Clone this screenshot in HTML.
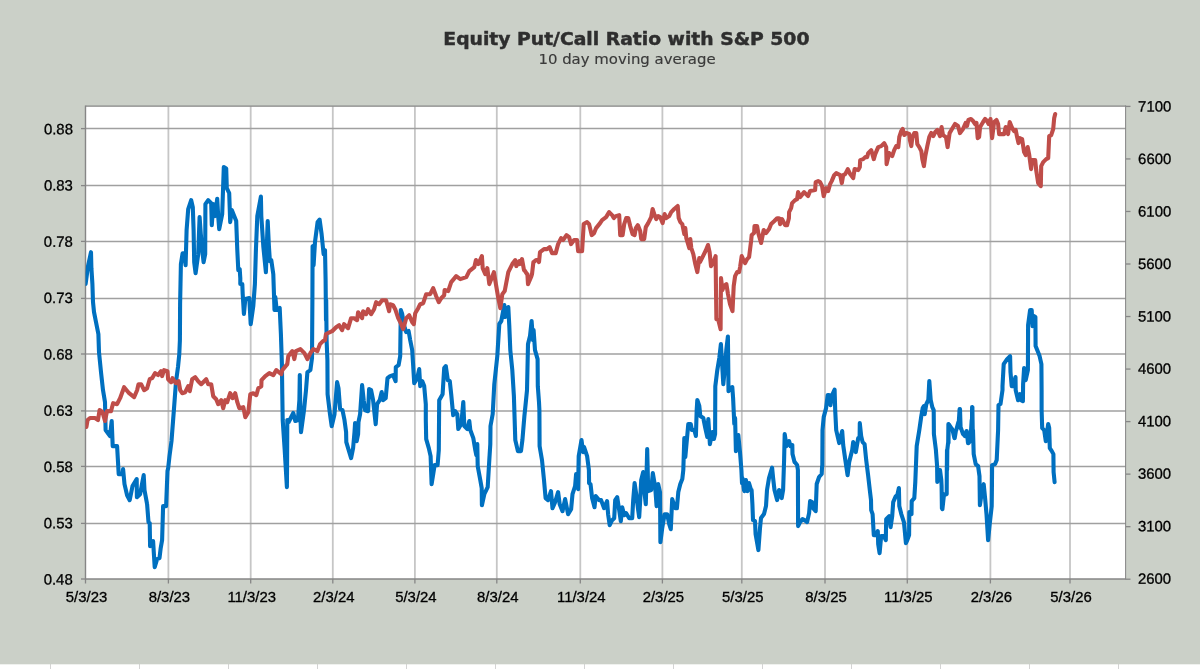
<!DOCTYPE html>
<html><head><meta charset="utf-8"><title>Equity Put/Call Ratio with S&amp;P 500</title>
<style>
html,body{margin:0;padding:0;background:#fff;}
body{width:1200px;height:669px;overflow:hidden;position:relative;}
svg{display:block;position:absolute;left:0;top:0;}
.ax{font-family:"Liberation Sans",Arial,sans-serif;font-size:14.9px;fill:#000;stroke:#000;stroke-width:0.3px;}
.t1{font-family:"DejaVu Sans",Verdana,sans-serif;font-weight:bold;font-size:17.2px;fill:#2e2e2e;stroke:#2e2e2e;stroke-width:0.45px;}
.t2{font-family:"DejaVu Sans",Verdana,sans-serif;font-size:13.8px;fill:#3a3a3a;stroke:#3a3a3a;stroke-width:0.15px;}
</style></head><body>
<svg width="1200" height="669" viewBox="0 0 1200 669">
<rect x="0" y="0" width="1200" height="669" fill="#ffffff"/>
<filter id="soft" filterUnits="userSpaceOnUse" x="-20" y="-20" width="1240" height="709"><feGaussianBlur stdDeviation="0.42"/></filter>
<g filter="url(#soft)">
<rect x="-20" y="640" width="1240" height="60" fill="#ffffff"/>

<g stroke="#d4d4d4" stroke-width="1">
<line x1="50.5" y1="664" x2="50.5" y2="680"/>
<line x1="139.5" y1="664" x2="139.5" y2="680"/>
<line x1="228.5" y1="664" x2="228.5" y2="680"/>
<line x1="317.5" y1="664" x2="317.5" y2="680"/>
<line x1="406.5" y1="664" x2="406.5" y2="680"/>
<line x1="495.5" y1="664" x2="495.5" y2="680"/>
<line x1="584.5" y1="664" x2="584.5" y2="680"/>
<line x1="673.5" y1="664" x2="673.5" y2="680"/>
<line x1="762.5" y1="664" x2="762.5" y2="680"/>
<line x1="851.5" y1="664" x2="851.5" y2="680"/>
<line x1="940.5" y1="664" x2="940.5" y2="680"/>
<line x1="1029.5" y1="664" x2="1029.5" y2="680"/>
<line x1="1118.5" y1="664" x2="1118.5" y2="680"/>
<line x1="1207.5" y1="664" x2="1207.5" y2="680"/>
</g>
<rect x="-20" y="-20" width="1240" height="684.3" fill="#cbd0c8"/>
<rect x="85.5" y="106.2" width="1040.5" height="472.8" fill="#ffffff"/>
<g stroke="#c6c6c6" stroke-width="1.8">
<line x1="168.4" y1="106.2" x2="168.4" y2="579.0"/>
<line x1="250.7" y1="106.2" x2="250.7" y2="579.0"/>
<line x1="332.8" y1="106.2" x2="332.8" y2="579.0"/>
<line x1="414.9" y1="106.2" x2="414.9" y2="579.0"/>
<line x1="496.8" y1="106.2" x2="496.8" y2="579.0"/>
<line x1="580.3" y1="106.2" x2="580.3" y2="579.0"/>
<line x1="662.4" y1="106.2" x2="662.4" y2="579.0"/>
<line x1="741.8" y1="106.2" x2="741.8" y2="579.0"/>
<line x1="825" y1="106.2" x2="825" y2="579.0"/>
<line x1="907.3" y1="106.2" x2="907.3" y2="579.0"/>
<line x1="990.4" y1="106.2" x2="990.4" y2="579.0"/>
<line x1="1070.0" y1="106.2" x2="1070.0" y2="579.0"/>
</g>
<g stroke="#a0a0a0" stroke-width="1.5">
<line x1="85.5" y1="128.60" x2="1126.0" y2="128.60"/>
<line x1="85.5" y1="185.60" x2="1126.0" y2="185.60"/>
<line x1="85.5" y1="241.40" x2="1126.0" y2="241.40"/>
<line x1="85.5" y1="298.40" x2="1126.0" y2="298.40"/>
<line x1="85.5" y1="354.00" x2="1126.0" y2="354.00"/>
<line x1="85.5" y1="410.90" x2="1126.0" y2="410.90"/>
<line x1="85.5" y1="466.40" x2="1126.0" y2="466.40"/>
<line x1="85.5" y1="523.40" x2="1126.0" y2="523.40"/>
</g>
<g stroke="#868686" stroke-width="1.3" fill="none">
<line x1="85.5" y1="105.60000000000001" x2="85.5" y2="579.6" stroke-width="1.4"/>
<line x1="85.5" y1="106.2" x2="1126.0" y2="106.2" stroke-width="1.25"/>
<line x1="1125.6" y1="105.60000000000001" x2="1125.6" y2="579.6" stroke-width="1.05"/>
<line x1="85.5" y1="579.0" x2="1126.0" y2="579.0" stroke-width="1.3"/>
<line x1="81.0" y1="128.60" x2="85.5" y2="128.60"/>
<line x1="81.0" y1="185.60" x2="85.5" y2="185.60"/>
<line x1="81.0" y1="241.40" x2="85.5" y2="241.40"/>
<line x1="81.0" y1="298.40" x2="85.5" y2="298.40"/>
<line x1="81.0" y1="354.00" x2="85.5" y2="354.00"/>
<line x1="81.0" y1="410.90" x2="85.5" y2="410.90"/>
<line x1="81.0" y1="466.40" x2="85.5" y2="466.40"/>
<line x1="81.0" y1="523.40" x2="85.5" y2="523.40"/>
<line x1="81.0" y1="579.00" x2="85.5" y2="579.00"/>
<line x1="1126.0" y1="106.40" x2="1130.5" y2="106.40"/>
<line x1="1126.0" y1="158.93" x2="1130.5" y2="158.93"/>
<line x1="1126.0" y1="211.47" x2="1130.5" y2="211.47"/>
<line x1="1126.0" y1="264.00" x2="1130.5" y2="264.00"/>
<line x1="1126.0" y1="316.53" x2="1130.5" y2="316.53"/>
<line x1="1126.0" y1="369.07" x2="1130.5" y2="369.07"/>
<line x1="1126.0" y1="421.60" x2="1130.5" y2="421.60"/>
<line x1="1126.0" y1="474.13" x2="1130.5" y2="474.13"/>
<line x1="1126.0" y1="526.67" x2="1130.5" y2="526.67"/>
<line x1="1126.0" y1="579.20" x2="1130.5" y2="579.20"/>
<line x1="85.5" y1="579.0" x2="85.5" y2="583.5"/>
<line x1="168.4" y1="579.0" x2="168.4" y2="583.5"/>
<line x1="250.7" y1="579.0" x2="250.7" y2="583.5"/>
<line x1="332.8" y1="579.0" x2="332.8" y2="583.5"/>
<line x1="414.9" y1="579.0" x2="414.9" y2="583.5"/>
<line x1="496.8" y1="579.0" x2="496.8" y2="583.5"/>
<line x1="580.3" y1="579.0" x2="580.3" y2="583.5"/>
<line x1="662.4" y1="579.0" x2="662.4" y2="583.5"/>
<line x1="741.8" y1="579.0" x2="741.8" y2="583.5"/>
<line x1="825" y1="579.0" x2="825" y2="583.5"/>
<line x1="907.3" y1="579.0" x2="907.3" y2="583.5"/>
<line x1="990.4" y1="579.0" x2="990.4" y2="583.5"/>
<line x1="1070.0" y1="579.0" x2="1070.0" y2="583.5"/>
</g>
<clipPath id="c"><rect x="85.5" y="106.2" width="1040.5" height="472.8"/></clipPath>
<g clip-path="url(#c)" fill="none" stroke-linejoin="round" stroke-linecap="round">
<path d="M85.6,284.0 L88.0,266.2 L91.0,252.2 L91.4,268.2 L92.4,284.0 L92.6,290.0 L93.0,302.0 L94.0,312.0 L96.0,322.1 L98.4,334.1 L99.0,352.1 L101.0,372.1 L103.0,390.2 L105.0,402.2 L105.6,430.0 L110.0,436.1 L111.7,421.0 L112.7,446.1 L117.1,446.1 L118.7,474.1 L122.5,474.1 L123.1,469.1 L124.5,484.1 L127.1,495.2 L129.7,500.2 L132.5,486.1 L136.7,479.1 L136.9,497.2 L140.1,494.2 L143.7,475.1 L144.5,490.1 L147.1,504.2 L147.1,504.1 L148.5,522.1 L149.7,523.1 L150.1,546.1 L153.1,541.1 L154.7,567.2 L157.1,559.1 L159.5,558.1 L160.7,548.1 L162.1,540.1 L163.1,506.1 L166.1,506.1 L167.5,471.0 L168.2,468.0 L169.5,456.0 L171.5,441.0 L174.0,408.5 L176.0,381.6 L178.0,367.0 L179.3,354.0 L179.9,340.0 L180.1,304.0 L180.5,284.0 L180.9,264.0 L182.6,253.2 L184.2,253.2 L185.6,265.2 L186.6,230.1 L188.2,209.1 L191.2,200.1 L192.8,207.1 L193.6,230.1 L194.2,262.2 L195.6,273.2 L198.2,254.2 L199.6,217.1 L200.8,234.1 L202.2,250.2 L203.6,262.2 L205.2,254.2 L205.4,204.1 L208.2,200.1 L211.2,203.1 L211.8,225.1 L213.2,204.1 L215.2,216.1 L217.2,198.7 L218.2,216.1 L219.2,229.1 L222.2,214.1 L223.8,167.0 L226.2,168.4 L226.8,188.1 L229.2,193.1 L230.2,222.1 L231.8,210.1 L234.2,216.1 L236.2,221.1 L237.3,250.2 L238.3,270.2 L239.7,269.2 L240.3,278.2 L240.3,284.0 L242.3,284.0 L242.7,294.0 L243.9,314.0 L245.3,299.0 L249.3,298.0 L250.7,324.1 L253.3,306.0 L254.9,284.0 L255.9,250.2 L257.3,216.1 L260.9,196.5 L261.3,216.1 L263.3,246.2 L265.9,272.2 L267.7,221.1 L268.9,246.2 L269.9,261.2 L271.3,260.2 L273.3,274.2 L274.5,310.0 L275.3,297.0 L276.7,310.0 L279.7,308.0 L280.9,334.1 L281.9,364.1 L282.3,394.2 L282.7,420.0 L284.7,450.1 L286.9,487.1 L287.1,460.1 L287.3,420.0 L288.7,422.0 L293.3,413.0 L295.3,421.0 L297.9,420.0 L299.4,400.0 L299.8,375.0 L300.4,416.0 L301.0,432.1 L304.0,410.2 L306.0,390.1 L307.4,372.1 L310.4,370.1 L312.0,358.1 L312.4,300.0 L312.6,246.2 L313.0,246.1 L313.6,265.1 L315.0,242.1 L317.6,222.0 L319.6,219.6 L321.6,234.1 L323.6,254.1 L325.0,250.1 L325.6,280.1 L326.0,320.2 L326.2,300.0 L326.6,340.1 L327.4,360.1 L327.6,394.2 L330.0,414.2 L331.7,426.2 L334.5,414.2 L337.1,382.1 L338.5,388.1 L340.1,409.2 L342.5,410.2 L344.5,420.2 L346.1,432.1 L346.3,442.1 L348.1,448.1 L351.1,458.1 L353.1,448.1 L354.5,432.1 L355.1,423.0 L356.7,441.1 L358.1,434.1 L358.5,422.0 L360.1,414.2 L362.1,385.1 L363.7,400.2 L365.1,410.2 L368.1,411.2 L369.1,389.1 L371.1,390.1 L373.1,400.2 L375.7,424.2 L377.1,404.2 L379.7,400.2 L381.7,392.1 L383.1,400.2 L385.7,398.2 L387.5,378.1 L390.1,376.1 L393.1,375.1 L395.6,381.1 L395.8,367.1 L398.6,365.1 L400.2,356.1 L400.8,310.0 L402.2,314.0 L404.2,326.0 L406.2,332.1 L408.6,331.0 L410.2,340.1 L412.2,350.1 L413.2,366.1 L414.2,383.1 L417.2,378.1 L419.2,369.1 L420.2,386.1 L422.2,381.1 L424.2,386.1 L425.8,404.2 L425.8,420.0 L426.2,439.1 L428.8,448.1 L430.6,456.1 L431.6,484.1 L433.2,474.1 L434.6,465.1 L437.6,465.1 L438.8,450.1 L439.2,400.2 L442.6,394.2 L444.2,368.1 L445.8,366.1 L447.8,380.1 L449.8,381.1 L451.2,394.2 L453.2,415.2 L455.2,411.2 L457.3,414.2 L458.3,429.0 L461.3,424.0 L463.3,402.0 L464.3,426.0 L467.3,429.0 L469.3,421.0 L470.3,430.0 L473.3,438.1 L475.3,450.1 L476.3,455.1 L477.3,444.1 L477.7,466.1 L480.3,480.1 L481.7,488.1 L481.9,505.2 L484.3,494.2 L487.7,487.1 L489.3,460.1 L490.3,444.1 L490.5,426.0 L492.7,414.0 L494.3,384.1 L497.3,356.1 L499.3,324.0 L501.3,321.0 L504.3,305.0 L505.3,317.0 L508.3,307.0 L509.3,326.0 L510.3,350.1 L512.3,370.1 L513.9,396.2 L515.3,440.1 L517.9,451.1 L521.0,451.1 L522.4,440.1 L524.4,416.0 L525.0,410.2 L527.0,390.2 L528.0,344.1 L530.0,336.1 L531.6,321.0 L533.0,340.1 L533.6,330.1 L535.0,350.1 L537.6,359.1 L537.8,386.2 L539.0,402.2 L539.4,410.0 L539.6,446.1 L542.0,460.1 L544.0,480.1 L545.6,498.1 L548.0,500.1 L551.0,491.1 L552.5,508.2 L555.1,502.1 L558.1,492.1 L559.7,504.2 L562.5,511.2 L565.1,499.1 L568.1,514.2 L571.1,509.2 L572.5,494.1 L575.1,486.1 L576.1,474.1 L578.1,489.1 L578.7,456.1 L581.5,440.0 L583.1,452.1 L584.1,447.1 L587.1,456.1 L588.9,470.1 L589.1,483.1 L590.5,484.1 L592.1,498.1 L594.5,507.2 L595.7,496.1 L599.1,500.1 L601.1,500.1 L604.1,508.2 L607.1,501.1 L608.1,514.2 L609.7,525.2 L612.1,520.2 L614.2,518.2 L615.2,500.1 L617.2,497.1 L619.2,510.2 L620.8,521.2 L622.2,507.2 L624.2,515.2 L626.2,513.2 L629.2,518.2 L632.2,518.2 L633.2,500.1 L634.6,483.1 L636.2,494.1 L638.2,510.2 L639.2,517.2 L640.2,500.1 L641.2,480.1 L643.2,472.1 L644.2,490.1 L645.8,504.2 L647.2,449.1 L648.2,491.1 L651.2,490.1 L652.8,473.1 L655.2,487.1 L656.6,506.2 L658.2,484.1 L660.0,492.1 L660.2,516.2 L660.4,542.2 L662.2,528.2 L664.6,514.2 L667.2,514.2 L669.2,524.2 L670.8,529.2 L672.2,499.1 L675.2,508.2 L676.9,508.2 L678.3,492.1 L680.3,484.1 L682.3,479.1 L683.3,470.1 L684.3,438.0 L685.3,457.1 L688.3,424.0 L690.7,424.0 L691.9,430.0 L694.3,430.0 L695.9,436.0 L696.7,410.0 L697.3,400.0 L699.3,406.0 L700.3,416.0 L703.3,418.0 L705.3,428.0 L707.3,437.0 L708.3,419.0 L709.9,444.1 L712.3,432.0 L713.9,439.0 L715.1,434.0 L715.3,386.2 L717.3,370.1 L719.3,358.1 L720.9,344.1 L721.9,360.1 L723.3,384.2 L724.7,370.1 L726.3,350.1 L727.9,336.5 L728.3,370.1 L728.5,391.2 L730.3,388.2 L732.3,387.2 L733.1,398.2 L734.3,424.0 L735.1,418.0 L735.9,451.1 L738.3,435.0 L740.0,452.1 L741.4,470.1 L742.0,483.1 L742.4,478.0 L744.0,490.0 L744.4,491.1 L745.6,480.0 L746.0,480.1 L747.0,491.0 L747.4,491.1 L749.0,483.1 L749.0,483.0 L751.4,491.1 L751.6,490.0 L752.4,504.2 L753.0,520.1 L753.4,520.2 L755.0,521.1 L755.6,534.1 L758.4,550.1 L760.0,528.1 L761.0,518.1 L764.0,514.1 L766.0,506.1 L767.0,490.0 L769.0,478.0 L772.1,467.6 L773.1,478.0 L774.5,490.0 L777.1,500.1 L779.1,490.0 L781.7,498.1 L783.1,490.0 L784.1,460.0 L784.7,434.0 L786.5,446.1 L789.1,441.1 L790.5,446.1 L792.3,445.1 L792.5,454.1 L794.5,462.1 L794.7,462.0 L797.1,465.0 L797.9,470.0 L798.1,526.1 L800.1,522.1 L802.5,519.1 L804.5,520.1 L807.1,522.1 L809.1,513.1 L810.1,501.1 L812.1,502.1 L813.1,508.1 L815.7,511.1 L816.7,484.0 L819.1,477.0 L821.7,474.0 L822.1,466.0 L822.3,466.2 L822.5,430.1 L823.7,417.1 L826.1,408.1 L827.7,395.0 L829.1,395.0 L830.5,405.1 L832.1,395.0 L834.6,389.6 L835.2,410.1 L836.2,430.1 L839.2,443.1 L842.2,431.1 L843.2,445.1 L845.2,459.1 L847.6,475.2 L849.2,462.1 L852.2,450.1 L853.2,442.1 L855.8,452.1 L858.2,438.1 L859.6,438.1 L859.8,423.1 L861.2,436.1 L862.6,442.1 L864.6,444.1 L866.2,460.1 L868.2,476.0 L869.8,490.0 L871.0,500.1 L871.2,510.1 L872.6,514.1 L873.8,535.1 L876.2,535.1 L877.8,531.1 L878.2,544.1 L879.6,553.1 L880.8,540.1 L881.2,536.1 L883.8,536.1 L885.8,540.1 L886.2,519.1 L889.2,516.1 L890.6,527.1 L892.2,516.1 L893.2,502.1 L895.8,496.1 L897.3,495.1 L898.9,488.0 L899.3,506.1 L901.3,514.1 L903.9,522.1 L904.7,530.1 L905.9,543.1 L907.3,540.1 L909.1,535.1 L909.3,512.1 L911.5,514.1 L911.7,501.1 L914.3,498.1 L915.3,482.0 L916.7,446.1 L919.3,430.1 L921.3,416.1 L922.7,408.1 L923.9,406.1 L924.7,414.1 L926.3,404.1 L928.3,400.0 L929.3,381.0 L930.7,400.0 L932.3,407.1 L933.7,410.1 L933.9,434.1 L935.9,450.1 L937.1,466.0 L937.3,482.0 L939.3,470.0 L940.0,470.1 L941.3,480.0 L941.6,486.2 L941.9,508.1 L942.4,509.2 L944.0,494.2 L944.3,495.1 L946.4,494.2 L946.7,494.1 L946.8,470.1 L947.0,450.1 L947.1,470.0 L947.3,450.0 L948.2,442.1 L948.4,424.1 L948.5,443.1 L948.7,424.1 L952.0,429.1 L952.3,429.1 L954.4,438.1 L954.7,438.1 L956.0,430.1 L956.3,430.1 L958.4,422.1 L958.8,422.1 L959.6,409.0 L960.0,409.1 L960.6,428.1 L961.0,428.1 L963.0,434.1 L963.4,434.1 L965.0,436.1 L965.4,436.1 L966.4,431.1 L966.8,431.1 L968.0,443.1 L968.4,443.1 L970.0,441.1 L970.4,441.1 L971.7,420.0 L972.0,420.1 L972.1,407.0 L972.4,407.1 L972.7,430.1 L973.0,430.1 L973.7,454.1 L975.7,464.1 L978.1,466.1 L979.5,476.1 L979.7,490.2 L979.9,505.2 L982.1,490.2 L983.7,484.2 L985.1,498.2 L986.5,514.2 L988.1,540.2 L989.7,524.0 L991.7,506.2 L991.9,490.2 L992.1,465.1 L995.1,464.1 L996.7,460.1 L998.1,430.1 L998.5,405.0 L1000.5,404.0 L1002.5,390.0 L1002.5,386.2 L1003.7,364.1 L1007.1,359.1 L1010.1,356.1 L1010.5,372.1 L1011.7,386.2 L1013.1,386.2 L1015.5,377.1 L1015.7,390.2 L1018.1,400.2 L1020.1,394.2 L1021.1,400.2 L1022.9,401.2 L1023.1,384.2 L1024.1,368.1 L1025.7,380.1 L1027.9,370.1 L1028.1,325.1 L1030.1,310.0 L1031.7,310.0 L1032.5,326.1 L1033.8,316.0 L1035.4,317.0 L1035.6,346.1 L1037.2,350.1 L1039.6,356.1 L1041.4,364.1 L1041.6,390.2 L1041.6,410.0 L1042.2,428.1 L1044.2,430.1 L1045.8,441.1 L1048.2,424.1 L1049.2,428.1 L1049.8,448.1 L1051.8,451.1 L1053.4,454.1 L1053.6,472.1 L1054.6,482.1" stroke="#0070c0" stroke-width="4.1"/>
<path d="M86.4,427.0 L87.6,420.0 L90.0,418.0 L95.0,418.0 L98.0,420.0 L99.6,410.0 L102.4,412.0 L105.0,421.0 L107.0,411.0 L111.0,411.2 L113.1,403.2 L117.1,404.2 L120.1,398.2 L124.1,387.2 L129.1,393.2 L134.1,397.2 L137.1,390.2 L138.5,384.2 L141.1,384.2 L144.1,390.2 L147.1,388.2 L149.7,379.2 L152.1,378.2 L155.1,373.1 L158.1,375.1 L161.1,371.1 L162.1,376.1 L164.1,370.1 L167.5,371.1 L168.1,379.2 L171.1,382.2 L172.5,378.2 L175.8,383.2 L178.6,381.2 L180.2,390.2 L182.2,393.2 L185.2,392.2 L188.2,386.2 L189.8,391.2 L192.2,379.2 L195.2,377.1 L198.2,381.2 L201.2,384.2 L206.2,379.2 L208.2,384.2 L211.2,384.2 L213.2,396.2 L216.2,399.2 L218.2,404.2 L221.2,400.2 L223.2,408.2 L225.2,400.2 L227.2,402.2 L230.2,393.2 L232.6,398.2 L235.2,393.2 L237.3,402.2 L239.3,408.2 L243.3,407.2 L245.3,417.2 L248.3,412.2 L250.3,394.2 L253.3,393.2 L256.3,395.2 L258.3,388.2 L261.3,386.2 L261.5,380.2 L265.3,376.1 L269.3,373.1 L273.3,375.1 L276.3,370.1 L281.3,374.1 L282.3,370.1 L287.3,364.1 L288.3,356.1 L292.3,351.1 L294.3,359.1 L295.9,351.1 L300.4,349.1 L304.4,353.1 L307.4,359.1 L310.4,353.1 L313.4,349.1 L317.4,351.1 L320.0,344.1 L320.0,344.1 L323.0,341.1 L325.0,340.1 L326.0,334.0 L332.1,331.2 L336.1,327.2 L339.1,325.2 L342.1,330.2 L344.1,324.2 L348.1,328.2 L351.1,318.2 L354.1,318.2 L357.1,320.2 L358.1,312.2 L362.1,318.2 L363.1,311.2 L366.1,314.2 L368.1,309.2 L371.1,314.2 L374.1,309.2 L376.1,302.2 L379.1,304.2 L382.1,300.2 L386.1,300.2 L389.1,311.2 L390.1,304.2 L393.1,305.2 L395.2,309.2 L398.2,318.2 L401.2,324.2 L403.2,329.2 L406.2,318.2 L409.2,315.2 L412.2,322.2 L413.8,324.2 L415.2,313.2 L418.2,308.2 L420.2,304.2 L423.2,303.2 L426.2,294.2 L430.2,294.2 L433.2,288.1 L436.2,296.2 L438.8,302.2 L441.2,298.2 L444.2,295.2 L444.6,290.1 L448.2,291.1 L451.2,282.1 L456.2,276.1 L460.3,279.1 L463.3,278.1 L466.3,277.1 L469.3,271.1 L474.3,267.1 L475.9,260.1 L478.3,264.1 L481.9,256.1 L482.7,268.1 L485.3,274.1 L487.3,268.1 L489.3,284.1 L491.3,279.1 L493.9,272.1 L495.9,284.1 L498.3,298.2 L500.3,308.2 L502.3,294.2 L504.7,291.1 L508.3,272.1 L512.3,264.1 L515.3,260.1 L516.3,266.1 L519.4,261.1 L520.0,264.1 L522.0,259.1 L522.0,259.1 L524.0,270.1 L524.4,270.1 L527.0,274.2 L527.4,274.1 L528.0,284.1 L528.0,284.2 L531.4,276.1 L532.0,274.2 L533.4,262.1 L533.6,262.1 L536.0,260.1 L536.4,260.1 L538.4,260.1 L539.0,262.1 L540.0,252.1 L544.0,249.1 L547.0,249.1 L549.6,247.1 L552.1,253.1 L555.7,253.1 L558.1,244.1 L561.1,238.1 L563.1,240.1 L566.5,235.1 L569.1,237.1 L571.1,244.1 L574.1,240.1 L577.1,240.1 L578.1,251.1 L582.1,251.1 L583.7,224.1 L587.1,222.1 L589.1,224.1 L591.7,235.1 L594.1,233.1 L596.1,228.1 L600.1,223.1 L602.1,220.1 L606.1,217.1 L609.1,212.1 L612.1,215.1 L613.8,218.1 L615.8,216.1 L619.2,215.1 L620.2,235.1 L622.6,235.1 L624.2,224.1 L626.2,218.1 L628.2,218.1 L630.2,226.1 L632.6,234.1 L634.6,235.1 L635.8,228.1 L637.8,225.1 L640.2,231.1 L641.2,239.1 L644.2,239.1 L645.8,227.1 L648.2,223.1 L651.2,217.1 L652.6,209.0 L654.6,215.1 L656.2,219.1 L658.2,216.1 L660.2,217.1 L662.6,223.1 L664.6,214.1 L666.2,218.1 L669.2,216.1 L671.2,212.1 L674.2,209.0 L677.7,206.0 L678.7,218.1 L680.3,222.1 L682.3,224.1 L684.3,234.1 L685.3,228.1 L686.3,238.1 L689.3,248.1 L690.3,239.1 L691.3,248.1 L693.3,254.1 L695.3,264.1 L697.3,272.1 L699.3,258.1 L700.0,262.1 L703.0,256.1 L706.0,250.0 L708.0,245.0 L709.6,252.1 L711.0,266.1 L713.0,263.1 L715.6,256.1 L716.0,290.1 L716.4,319.2 L718.4,320.2 L720.6,329.2 L720.8,300.1 L721.0,278.1 L722.4,290.1 L724.0,286.1 L726.4,284.1 L728.0,294.1 L730.0,304.1 L732.5,311.1 L733.7,286.1 L735.1,276.1 L737.1,272.1 L739.1,272.1 L740.1,267.1 L741.7,256.1 L743.1,259.1 L745.1,263.1 L747.1,259.1 L749.1,257.1 L751.1,241.0 L751.7,235.0 L754.1,233.0 L754.5,226.0 L757.1,226.0 L758.5,234.0 L761.1,243.0 L763.7,230.0 L766.1,233.0 L769.1,229.0 L771.1,224.0 L774.1,221.2 L777.1,218.2 L779.1,218.2 L780.1,224.2 L782.1,219.2 L785.1,225.2 L787.1,225.2 L788.9,218.2 L789.1,212.2 L791.1,208.2 L792.1,203.1 L795.1,200.1 L797.1,199.1 L798.1,192.1 L800.1,197.1 L804.1,192.1 L808.1,196.1 L810.1,191.1 L815.1,190.1 L815.7,182.1 L818.1,181.1 L820.1,182.1 L822.1,186.1 L823.7,196.1 L826.1,188.1 L828.1,191.1 L830.1,184.1 L831.7,181.1 L834.2,175.1 L836.2,173.1 L840.2,175.1 L841.8,183.1 L843.2,175.1 L845.2,174.1 L847.8,169.1 L850.2,174.1 L853.2,178.1 L854.6,169.1 L858.2,170.1 L859.8,167.1 L860.2,160.1 L863.2,159.1 L865.2,157.1 L867.2,157.1 L868.2,153.1 L871.2,150.1 L873.8,159.1 L875.2,154.1 L878.2,147.1 L881.2,146.1 L884.2,143.1 L886.2,147.1 L886.6,164.1 L889.2,153.1 L892.2,156.1 L894.2,150.1 L896.2,146.1 L898.3,147.1 L899.3,137.0 L901.3,131.0 L902.7,129.0 L904.3,135.0 L906.3,133.0 L909.3,134.0 L909.9,140.0 L911.3,146.1 L912.3,138.0 L914.3,133.0 L916.3,133.0 L917.3,144.1 L919.3,147.1 L921.3,151.1 L922.3,159.1 L923.9,166.1 L925.3,156.1 L927.3,146.1 L929.3,137.0 L931.3,133.0 L933.3,136.0 L935.3,132.0 L937.3,130.0 L940.0,136.1 L941.6,127.0 L943.0,135.1 L946.0,137.1 L947.6,147.1 L949.6,133.1 L952.0,129.0 L955.0,124.0 L958.0,126.0 L960.0,133.1 L963.0,129.0 L965.6,123.0 L967.0,126.0 L968.4,120.0 L971.0,119.0 L973.1,121.0 L975.1,124.0 L976.5,123.0 L977.7,138.1 L979.1,137.1 L980.1,127.0 L983.1,122.0 L985.1,119.0 L987.1,121.0 L988.5,124.0 L990.5,119.0 L992.1,138.1 L994.1,122.0 L996.5,120.0 L998.1,124.0 L999.1,134.1 L1004.1,134.1 L1005.7,127.0 L1008.1,134.1 L1009.7,122.0 L1012.1,128.0 L1014.1,131.0 L1015.7,130.0 L1017.1,137.1 L1018.5,143.1 L1019.7,138.1 L1022.1,139.1 L1024.1,152.1 L1025.7,155.1 L1027.7,147.1 L1029.1,154.1 L1031.1,169.1 L1032.1,160.1 L1035.2,160.1 L1036.2,170.1 L1038.2,183.1 L1040.8,186.1 L1041.2,166.1 L1043.2,162.1 L1046.2,159.1 L1048.2,158.1 L1049.2,136.1 L1051.2,135.1 L1053.2,129.0 L1054.2,118.0 L1055.2,114.0" stroke="#bf4d4a" stroke-width="4.1"/>
</g>
<g class="ax" text-anchor="middle" transform="rotate(0.02 600 601)">
<text x="86.5" y="601.8">5/3/23</text>
<text x="169.4" y="601.8">8/3/23</text>
<text x="251.7" y="601.8">11/3/23</text>
<text x="333.8" y="601.8">2/3/24</text>
<text x="415.9" y="601.8">5/3/24</text>
<text x="497.8" y="601.8">8/3/24</text>
<text x="581.3" y="601.8">11/3/24</text>
<text x="663.4" y="601.8">2/3/25</text>
<text x="742.8" y="601.8">5/3/25</text>
<text x="826.0" y="601.8">8/3/25</text>
<text x="908.3" y="601.8">11/3/25</text>
<text x="991.4" y="601.8">2/3/26</text>
<text x="1071.0" y="601.8">5/3/26</text>
</g>
<g class="ax" text-anchor="end" transform="rotate(0.03 72 350)">
<text x="72.8" y="134.20">0.88</text>
<text x="72.8" y="190.50">0.83</text>
<text x="72.8" y="246.80">0.78</text>
<text x="72.8" y="303.10">0.73</text>
<text x="72.8" y="359.40">0.68</text>
<text x="72.8" y="415.70">0.63</text>
<text x="72.8" y="472.00">0.58</text>
<text x="72.8" y="528.30">0.53</text>
<text x="72.8" y="584.60">0.48</text>
</g>
<g class="ax" text-anchor="start" transform="rotate(0.03 1138 350)">
<text x="1138" y="111.55">7100</text>
<text x="1138" y="164.01">6600</text>
<text x="1138" y="216.47">6100</text>
<text x="1138" y="268.93">5600</text>
<text x="1138" y="321.39">5100</text>
<text x="1138" y="373.85">4600</text>
<text x="1138" y="426.31">4100</text>
<text x="1138" y="478.77">3600</text>
<text x="1138" y="531.23">3100</text>
<text x="1138" y="583.69">2600</text>
</g>
<text class="t1" transform="translate(626.4 45.2) rotate(0.02) scale(1.091 1)" x="0" y="0" text-anchor="middle">Equity Put/Call Ratio with S&amp;P 500</text>
<text class="t2" transform="translate(627.0 64.0) rotate(0.02) scale(1.081 1)" x="0" y="0" text-anchor="middle">10 day moving average</text>
</g></svg></body></html>
